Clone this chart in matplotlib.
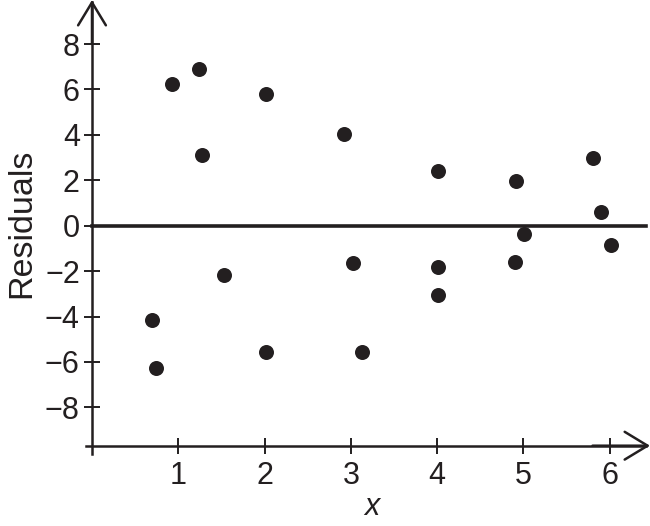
import numpy as np
import matplotlib.pyplot as plt

# residual points
x_vals = [0.70, 0.74, 0.93, 1.24, 1.28, 1.53, 2.02, 2.02, 2.92, 3.02,
          3.13, 4.01, 4.01, 4.01, 4.91, 4.90, 5.01, 5.81, 5.90, 6.01]
residuals = [-4.15, -6.28, 6.24, 6.92, 3.13, -2.17, 5.80, -5.55, 4.03, -1.64,
             -5.55, 2.40, -1.81, -3.05, 1.99, -1.59, -0.35, 3.00, 0.62, -0.84]
x_ticks = [1, 2, 3, 4, 5, 6]
y_ticks = [-8, -6, -4, -2, 0, 2, 4, 6, 8]

ink = '#231f20'
plt.rcParams['font.family'] = ['Liberation Sans', 'DejaVu Sans']

fig = plt.figure(figsize=(6.5, 5.26), dpi=100)
ax = fig.add_axes([80 / 650, 66 / 526, 570 / 650, 460 / 526])
ax.set_xlim(-0.139, 6.466)
ax.set_ylim(-10.32, 9.94)

x_axis_y = -9.69

for side in ['top', 'right']:
    ax.spines[side].set_visible(False)
ax.spines['left'].set_position(('data', 0))
ax.spines['bottom'].set_position(('data', x_axis_y))
ax.spines['left'].set_bounds(-10.05, 9.85)
ax.spines['bottom'].set_bounds(-0.07, 6.42)
for side in ['left', 'bottom']:
    ax.spines[side].set_linewidth(1.8)
    ax.spines[side].set_color(ink)

# open arrow heads
arrow = dict(arrowstyle='->,head_length=1.65,head_width=1.0', lw=1.8,
             color=ink, shrinkA=0, shrinkB=0)
ax.annotate('', xy=(0, 9.94), xytext=(0, 8.0), arrowprops=arrow,
            annotation_clip=False)
ax.annotate('', xy=(6.466, x_axis_y), xytext=(5.8, x_axis_y),
            arrowprops=arrow, annotation_clip=False)

ax.set_xticks(x_ticks)
ax.set_yticks(y_ticks)
ax.set_yticklabels(['\u2212' + str(-v) if v < 0 else str(v) for v in y_ticks])
ax.tick_params(direction='inout', length=11.5, width=1.4, color=ink,
               labelsize=22, labelcolor=ink)
ax.tick_params(axis='x', pad=5)
ax.tick_params(axis='y', pad=3)

# zero reference line
ax.plot([0, 6.42], [0, 0], color=ink, lw=2.6)

ax.plot(x_vals, residuals, 'o', color=ink, markersize=10.8, markeredgewidth=0)

ax.text(3.24, -12.39, 'x', fontsize=22, style='italic', color=ink,
        ha='center', va='center', clip_on=False)
ax.text(-0.81, 0.1, 'Residuals', fontsize=24.5, rotation=90, color=ink,
        ha='center', va='center', clip_on=False)

fig.savefig('out.png', dpi=100)
